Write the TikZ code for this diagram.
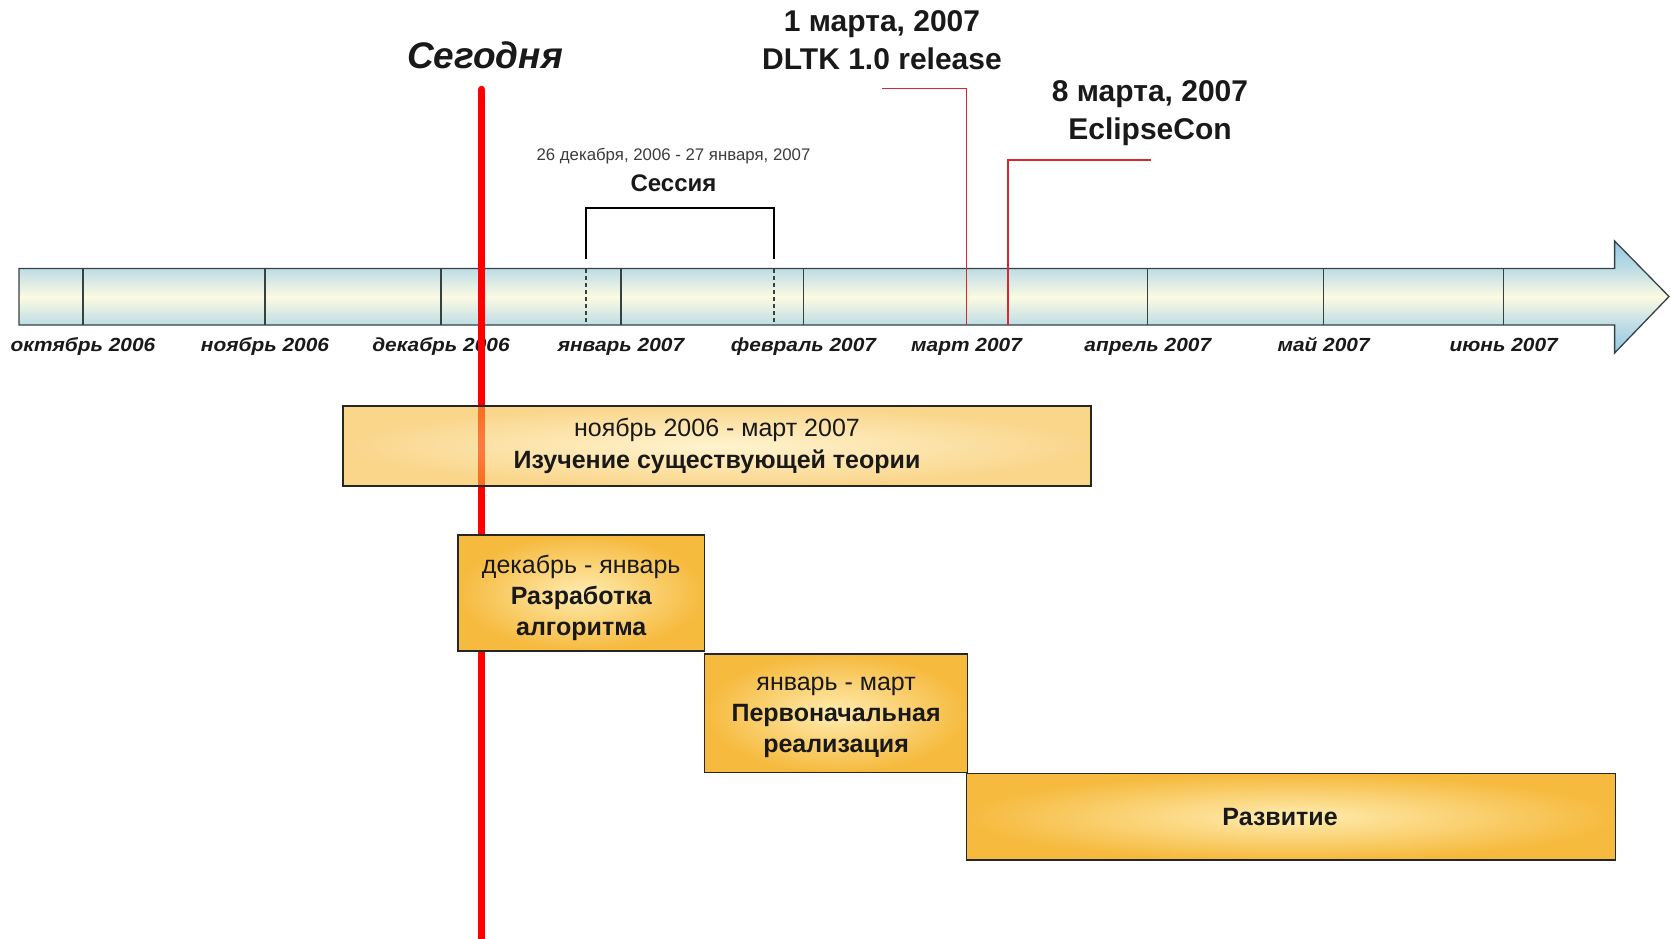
\documentclass[tikz,border=0pt]{standalone}
\usepackage{fontspec}
\setmainfont{Liberation Sans}
\newfontfamily\widefont[FakeStretch=1.10]{Liberation Sans}
\usetikzlibrary{calc}
\definecolor{tipblue}{RGB}{150,200,226}
\definecolor{edgeblue}{RGB}{188,220,230}
\definecolor{barcream}{RGB}{252,250,226}
\definecolor{barline}{RGB}{55,65,65}
\definecolor{boxout}{RGB}{246,186,62}
\definecolor{boxin}{RGB}{255,236,176}
\definecolor{todayred}{RGB}{255,0,0}
\definecolor{markred}{RGB}{215,40,50}
\definecolor{txt}{RGB}{25,25,25}
\definecolor{smalltxt}{RGB}{60,60,60}
\pgfdeclareverticalshading{barshade}{100bp}{color(0bp)=(tipblue); color(25bp)=(tipblue);
  color(37bp)=(edgeblue); color(50bp)=(barcream); color(63bp)=(edgeblue);
  color(75bp)=(tipblue); color(100bp)=(tipblue)}
\tikzset{
  taskbox/.style={draw=black!85, line width=1.3pt, shade, inner color=boxin, outer color=boxout,
    rectangle, inner sep=0pt, align=center, text=txt},
  monthlabel/.style={font=\widefont\bfseries\itshape\fontsize{19}{22}\selectfont, text=txt,
    inner sep=0pt, anchor=base},
  divider/.style={draw=barline, line width=1.3pt},
  marker/.style={draw=markred, line width=1.4pt},
  biglabel/.style={font=\bfseries\fontsize{30}{38}\selectfont, align=center, text=txt, inner sep=0pt},
}
\begin{document}
\begin{tikzpicture}[x=1pt,y=-1pt]
\useasboundingbox (0,0) rectangle (1671,938);

% timeline arrow
\path[draw=barline, line width=1.3pt, shading=barshade]
  (19,268.5) -- (1614.6,268.5) -- (1614.6,241) -- (1669,296.5) -- (1614.6,353) -- (1614.6,325)
  -- (19,325) -- cycle;

% month dividers and labels
\foreach \x/\lab [count=\i] in {83/октябрь 2006, 265/ноябрь 2006, 441/декабрь 2006, 621/январь 2007,
   803.5/февраль 2007, 966.6/март 2007, 1147.8/апрель 2007, 1323.6/май 2007, 1503.7/июнь 2007}{
  \draw[divider] (\x,268.5) -- (\x,325);
  \node[monthlabel] (m\i) at (\x,351) {\lab};
}

% session bracket
\coordinate (brL) at (586,259);
\coordinate (brR) at (774,259);
\coordinate (brTL) at (586,208);
\coordinate (brTR) at (774,208);
\draw[black, line width=1.8pt] (brL) -- (brTL) -- (brTR) -- (brR);
\draw[barline, line width=1.2pt, dash pattern=on 4pt off 3pt] (586,269) -- (586,325);
\draw[barline, line width=1.2pt, dash pattern=on 4pt off 3pt] (774,269) -- (774,325);
\node[font=\fontsize{16.8}{19}\selectfont, text=smalltxt, inner sep=0pt] (sesdate) at (673.5,155.6)
  {26 декабря, 2006 - 27 января, 2007};
\node[font=\bfseries\fontsize{24}{28}\selectfont, text=txt, inner sep=0pt] (ses) at (673.5,183) {Сессия};

% milestone markers
\coordinate (dltkA) at (882.4,88.5);
\coordinate (dltkB) at (966.6,325);
\draw[marker] (dltkA) -| (dltkB);
\node[biglabel] (dltk) at (882,40.5) {1 марта, 2007\\DLTK 1.0 release};

\coordinate (eclA) at (1151,160);
\coordinate (eclB) at (1008,325);
\draw[marker] (eclA) -| (eclB);
\node[biglabel] (ecl) at (1150,113.5) {8 марта, 2007\\EclipseCon};

% today line
\node[font=\bfseries\itshape\fontsize{37}{42}\selectfont, text=txt, inner sep=0pt] (today) at (485,55.4) {Сегодня};
\coordinate (todayTop) at (481.7,89.5);
\coordinate (todayBot) at (481.7,945);
\draw[todayred, line width=7.5pt, line cap=round] (todayTop) -- (todayBot);

% task boxes
\node[taskbox, fill opacity=0.6, text opacity=1, minimum width=748pt, minimum height=80pt,
  font=\fontsize{25}{32}\selectfont] (t1) at (717,446)
  {ноябрь 2006 - март 2007\\\bfseries Изучение существующей теории};
\node[taskbox, minimum width=246.5pt, minimum height=116pt, font=\fontsize{25}{31}\selectfont] (t2) at (581.25,593)
  {\rule{0pt}{28pt}декабрь - январь\\\bfseries Разработка\\\bfseries алгоритма};
\node[taskbox, minimum width=263pt, minimum height=118.6pt, font=\fontsize{25}{31}\selectfont] (t3) at (836.1,713.3)
  {\rule{0pt}{21pt}январь - март\\\bfseries Первоначальная\\\bfseries реализация};
\node[taskbox, minimum width=649pt, minimum height=86.3pt, font=\bfseries\fontsize{25}{30}\selectfont] (t4) at (1291.1,816.9)
  {\hspace*{-22pt}Развитие};
\end{tikzpicture}
\end{document}
